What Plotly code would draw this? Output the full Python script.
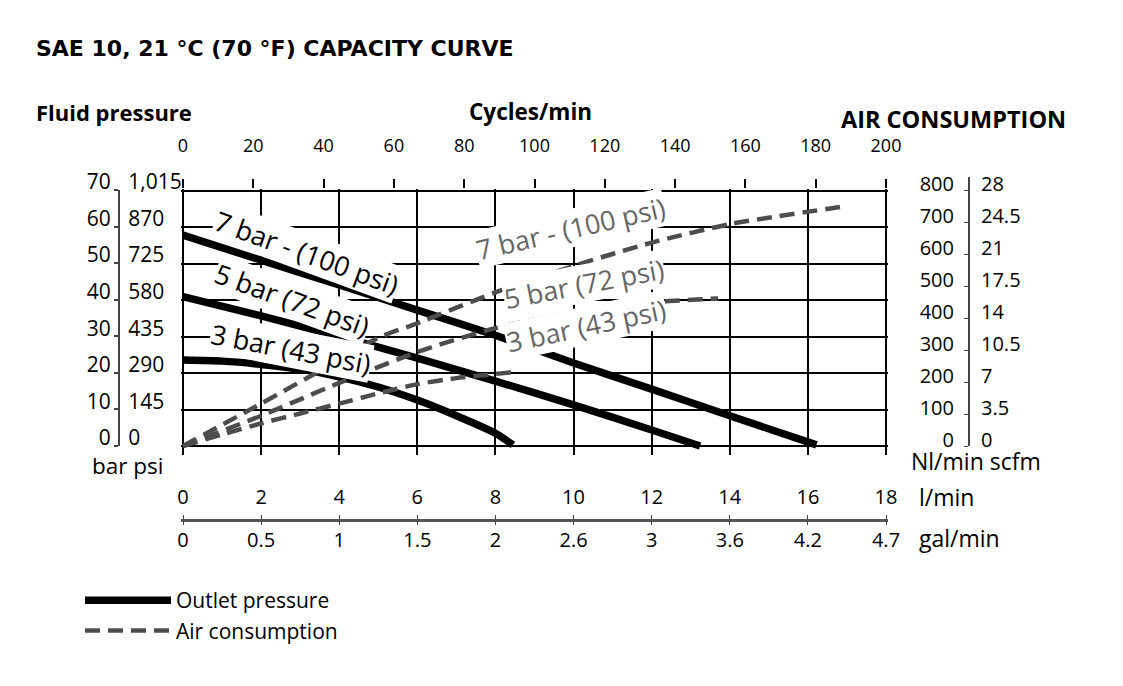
import plotly.graph_objects as go

# ---------------- data ----------------
flow_7 = [0, 2, 4, 6, 8, 10, 12, 14, 16.22]
press_7 = [57.9, 51.0, 44.2, 37.3, 30.4, 22.8, 15.6, 8.3, 0.3]
flow_5 = [0, 2, 4, 6, 8, 10, 12, 13.24]
press_5 = [41.0, 35.7, 30.1, 24.1, 17.8, 11.3, 4.4, 0.0]
flow_3 = [0, 1, 2, 3, 4, 5, 6, 7, 8, 8.45]
press_3 = [23.6, 23.3, 22.4, 21.1, 19.0, 16.2, 12.6, 8.3, 3.5, 0.3]

air_flow_7 = [0, 2, 4, 5, 6, 8, 10, 12, 14, 17]
air_7 = [0, 133, 270, 340, 385, 482, 565, 638, 696, 753]
air_flow_5 = [0, 2, 4, 6, 8, 10, 12, 13.7]
air_5 = [0, 95, 198, 295, 370, 420, 451, 463]
air_flow_3 = [0, 1, 2, 3, 4, 5, 6, 7, 8, 8.46]
air_3 = [0, 36, 71, 102, 133, 165, 194, 213, 226, 232]

lpm_ticks = [0, 2, 4, 6, 8, 10, 12, 14, 16, 18]
gpm_labels = ["0", "0.5", "1", "1.5", "2", "2.6", "3", "3.6", "4.2", "4.7"]
cycle_ticks = [0, 20, 40, 60, 80, 100, 120, 140, 160, 180, 200]
bar_ticks = [0, 10, 20, 30, 40, 50, 60, 70]
psi_labels = ["0", "145", "290", "435", "580", "725", "870", "1,015"]
nl_ticks = [0, 100, 200, 300, 400, 500, 600, 700, 800]
scfm_labels = ["0", "3.5", "7", "10.5", "14", "17.5", "21", "24.5", "28"]

pressure_curves = [("7 bar", flow_7, press_7), ("5 bar", flow_5, press_5), ("3 bar", flow_3, press_3)]
air_curves = [("7 bar", air_flow_7, air_7), ("5 bar", air_flow_5, air_5), ("3 bar", air_flow_3, air_3)]

# ---------------- geometry helpers (reference pixel grid 1123 x 686) ----------------
W, H = 1123, 686
FONT = "Open Sans"
def PX(p):
    return p / W
def PY(p):
    return 1 - p / H

LEFT, RIGHT, TOP, ZERO, BOTTOM = 183, 886, 191, 446, 455
EDGE = 2                             # px of slack so border grid lines are kept
xs = (RIGHT - LEFT) / 18.0           # px per l/min
ys = (ZERO - TOP) / 70.0             # px per bar
pad_x = EDGE / xs
GRAY = "#4d4d4d"

fig = go.Figure()

for i, (name, fx, fy) in enumerate(pressure_curves):
    fig.add_trace(go.Scatter(
        x=fx, y=fy, mode="lines", name="Outlet pressure",
        legendgroup="out", showlegend=(i == 0),
        line=dict(color="black", width=7.5, shape="spline", smoothing=0.6),
        hoverinfo="skip"))
for i, (name, fx, fy) in enumerate(air_curves):
    fig.add_trace(go.Scatter(
        x=fx, y=fy, mode="lines", name="Air consumption", yaxis="y2",
        legendgroup="air", showlegend=(i == 0),
        line=dict(color=GRAY, width=4.5, dash="15px,8px", shape="spline", smoothing=0.6),
        hoverinfo="skip"))

# dummy traces so helper axes get drawn
def dummy(xa, ya):
    fig.add_trace(go.Scatter(x=[None], y=[None], xaxis=xa, yaxis=ya,
                             showlegend=False, hoverinfo="skip"))
dummy("x2", "y")
dummy("x3", "y")
dummy("x4", "y")
for ya in ["y3", "y4", "y5", "y6", "y7", "y8"]:
    dummy("x5", ya)

grid = dict(showgrid=True, gridcolor="black", gridwidth=2, zeroline=False,
            showticklabels=False, ticks="", showline=False, automargin=False)
tickfont = dict(family=FONT, size=20, color="black")
tickfont_l = dict(family=FONT, size=21, color="black")
clear = "rgba(0,0,0,0)"

lys = (ZERO - 190) / 70.0
shift_l = 8 / lys
rys = (ZERO - 190) / 800.0
shift_r = 6 / rys

fig.update_layout(
    width=W, height=H,
    margin=dict(l=0, r=0, t=0, b=0, pad=0, autoexpand=False),
    paper_bgcolor="white", plot_bgcolor="white",
    xaxis=dict(domain=[PX(LEFT - EDGE), PX(RIGHT + EDGE)], range=[-pad_x, 18 + pad_x],
               tickvals=lpm_ticks, **grid),
    yaxis=dict(domain=[PY(BOTTOM), PY(TOP - EDGE)],
               range=[-(BOTTOM - ZERO) / ys, 70 + EDGE / ys], tickvals=bar_ticks, **grid),
    yaxis2=dict(overlaying="y", visible=False, automargin=False,
                range=[-(BOTTOM - ZERO) / ys * 800 / 70, 800 + EDGE * 800 / 70 / ys]),
    xaxis2=dict(overlaying="x", anchor="y", side="top", automargin=False,
                range=[-pad_x * 200 / 18, 200 + pad_x * 200 / 18],
                tickvals=cycle_ticks, ticks="outside", ticklen=9, tickwidth=2,
                tickcolor="black", showgrid=False, zeroline=False, showline=False,
                tickfont=dict(family=FONT, size=18, color="black"), ticklabelstandoff=20),
    xaxis3=dict(overlaying="x", anchor="free", position=PY(520), side="top", automargin=False,
                range=[-pad_x, 18 + pad_x], tickvals=lpm_ticks,
                ticks="outside", ticklen=4, tickwidth=1, tickcolor="#444",
                showline=True, linecolor="#555", linewidth=2.5,
                showgrid=False, zeroline=False, tickfont=tickfont, ticklabelstandoff=3),
    xaxis4=dict(overlaying="x", anchor="free", position=PY(520), side="bottom", automargin=False,
                range=[-pad_x, 18 + pad_x], tickvals=lpm_ticks, ticktext=gpm_labels,
                ticks="outside", ticklen=4, tickwidth=1, tickcolor="#444",
                showline=False, showgrid=False, zeroline=False, tickfont=tickfont,
                ticklabelstandoff=-2),
    xaxis5=dict(visible=False, domain=[0, 0.01], range=[0, 1], automargin=False),
    yaxis3=dict(domain=[PY(ZERO), PY(190)], range=[0, 70], anchor="free", position=PX(119),
                side="left", showline=True, linecolor="#444", linewidth=2, automargin=False,
                ticks="outside", ticklen=4, tickwidth=1.5, tickcolor="#444",
                tickvals=bar_ticks, showticklabels=False, showgrid=False, zeroline=False),
    yaxis4=dict(domain=[PY(ZERO), PY(176)], range=[-shift_l, (ZERO - 176) / lys - shift_l],
                anchor="free", position=PX(119), side="left", showline=False, automargin=False,
                ticks="outside", ticklen=4, tickcolor=clear, tickvals=bar_ticks,
                showgrid=False, zeroline=False, tickfont=tickfont_l),
    yaxis5=dict(domain=[PY(ZERO), PY(176)], range=[-shift_l, (ZERO - 176) / lys - shift_l],
                anchor="free", position=PX(119), side="right", showline=False, automargin=False,
                ticks="outside", ticklen=4, tickcolor=clear, tickvals=bar_ticks,
                ticktext=psi_labels, showgrid=False, zeroline=False, tickfont=tickfont_l),
    yaxis6=dict(domain=[PY(ZERO), PY(177)], range=[0, (ZERO - 177) / rys], anchor="free",
                position=PX(969), side="left", showline=True, linecolor="#444", linewidth=1.5,
                ticks="outside", ticklen=4, tickwidth=1, tickcolor="#444", automargin=False,
                tickvals=nl_ticks, showticklabels=False, showgrid=False, zeroline=False),
    yaxis7=dict(domain=[PY(ZERO), PY(168)], range=[-shift_r, (ZERO - 168) / rys - shift_r],
                anchor="free", position=PX(969), side="left", showline=False, automargin=False,
                ticks="outside", ticklen=11, tickcolor=clear, tickvals=nl_ticks,
                showgrid=False, zeroline=False, tickfont=tickfont),
    yaxis8=dict(domain=[PY(ZERO), PY(168)], range=[-shift_r, (ZERO - 168) / rys - shift_r],
                anchor="free", position=PX(969), side="right", showline=False, automargin=False,
                ticks="outside", ticklen=7, tickcolor=clear, tickvals=nl_ticks,
                ticktext=scfm_labels, showgrid=False, zeroline=False, tickfont=tickfont),
    legend=dict(x=PX(80), y=PY(580), xanchor="left", yanchor="top",
                font=dict(family=FONT, size=21, color="black"),
                bgcolor=clear, itemwidth=86, tracegroupgap=0),
    font=dict(family=FONT, color="black"),
)

def text(s, x, y, size=20, bold=False, anchor="left", family=FONT):
    fig.add_annotation(text=("<b>%s</b>" % s) if bold else s, xref="paper", yref="paper",
                       x=PX(x), y=PY(y), xanchor=anchor, yanchor="middle", showarrow=False,
                       font=dict(family=family, size=size, color="black"))

text("SAE 10, 21 °C (70 °F) CAPACITY CURVE", 34, 49, size=22, bold=True, family="DejaVu Sans")
text("Fluid pressure", 34, 112, size=22, bold=True)
text("Cycles/min", 530, 112, size=22.5, bold=True, anchor="center")
text("AIR CONSUMPTION", 839, 119, size=23.5, bold=True)
text("bar psi", 90, 465, size=22.5)
text("Nl/min scfm", 909, 461, size=23)
text("l/min", 917, 497, size=23)
text("gal/min", 917, 538, size=23)

def curve_label(s, x, y, angle, color):
    fig.add_annotation(text=s, xref="x", yref="y", x=x, y=y, textangle=angle,
                       showarrow=False, bgcolor="white", borderpad=0,
                       font=dict(family=FONT, size=27, color=color))

curve_label("7 bar - (100 psi)", 3.17, 53.0, 20, "black")
curve_label("5 bar (72 psi)", 2.79, 40.1, 20, "black")
curve_label("3 bar (43 psi)", 2.76, 26.9, 11, "black")
curve_label("7 bar - (100 psi)", 9.91, 59.8, -13, "#666666")
curve_label("5 bar (72 psi)", 10.27, 44.7, -11, "#666666")
curve_label("3 bar (43 psi)", 10.32, 33.2, -12, "#666666")

fig.write_html(
    "out.html",
    config={"displayModeBar": False},
    post_script="document.body.style.margin='0';document.body.style.padding='0';"
                "document.body.style.overflow='hidden';"
                "document.documentElement.style.overflow='hidden';")
